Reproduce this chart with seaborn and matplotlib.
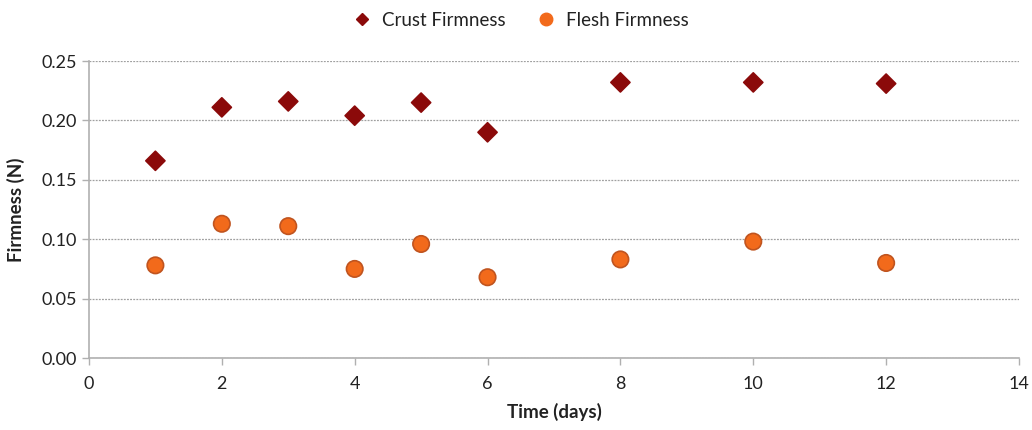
import numpy as np
import pandas as pd
import seaborn as sns
import matplotlib.pyplot as plt

days = [1, 2, 3, 4, 5, 6, 8, 10, 12]
crust = [0.166, 0.211, 0.216, 0.204, 0.215, 0.190, 0.232, 0.232, 0.231]
flesh = [0.078, 0.113, 0.111, 0.075, 0.096, 0.068, 0.083, 0.098, 0.080]

df = pd.DataFrame({
    'Time (days)': days * 2,
    'Firmness (N)': crust + flesh,
    'series': ['Crust Firmness'] * len(days) + ['Flesh Firmness'] * len(days),
})

sns.set_style('white')
plt.rcParams['font.family'] = ['Lato', 'DejaVu Sans']

fig = plt.figure(figsize=(10.32, 4.30), dpi=100)
ax = fig.add_axes([0.0862, 0.1674, 0.9012, 0.6907])

sns.scatterplot(ax=ax, data=df, x='Time (days)', y='Firmness (N)', hue='series', style='series',
                markers={'Crust Firmness': 'D', 'Flesh Firmness': 'o'},
                palette={'Crust Firmness': '#8b0a0a', 'Flesh Firmness': '#f26a1b'},
                size='series', sizes={'Crust Firmness': 95, 'Flesh Firmness': 140},
                linewidth=1.2, edgecolor=['#8b0a0a'] * len(days) + ['#c0541f'] * len(days),
                zorder=3, legend=False)

ax.set_xlim(0, 14)
ax.set_ylim(0, 0.25)
ax.set_xticks(np.arange(0, 15, 2))
ax.set_yticks(np.arange(0, 0.26, 0.05))
ax.yaxis.set_major_formatter(plt.FuncFormatter(lambda v, p: f'{v:.2f}'))
ax.grid(axis='y', color='#a0a0a0', linestyle=(0, (1.5, 1)), linewidth=0.9)
ax.set_axisbelow(True)
for side in ['top', 'right']:
    ax.spines[side].set_visible(False)
for side in ['left', 'bottom']:
    ax.spines[side].set_color('#b0b0b0')
    ax.spines[side].set_linewidth(1.2)
ax.tick_params(axis='both', length=5, width=1, color='#b0b0b0', labelsize=13, labelcolor='#222222',
               direction='out', left=True, bottom=True)
ax.tick_params(axis='x', pad=8)
ax.set_xlabel('Time (days)', fontsize=13.5, fontweight='bold', color='#222222', labelpad=8)
ax.set_ylabel('Firmness (N)', fontsize=13.5, fontweight='bold', color='#222222', labelpad=12)

handles = [
    plt.Line2D([], [], marker='D', linestyle='', color='#8b0a0a', markersize=6),
    plt.Line2D([], [], marker='o', linestyle='', color='#f26a1b', markersize=9),
]
fig.legend(handles, ['Crust Firmness', 'Flesh Firmness'], loc='upper center', ncol=2,
           bbox_to_anchor=(0.5, 1.012), frameon=False, fontsize=13.5, handletextpad=0.05,
           columnspacing=1.2, labelcolor='#222222')

fig.savefig('out.png', dpi=100)
